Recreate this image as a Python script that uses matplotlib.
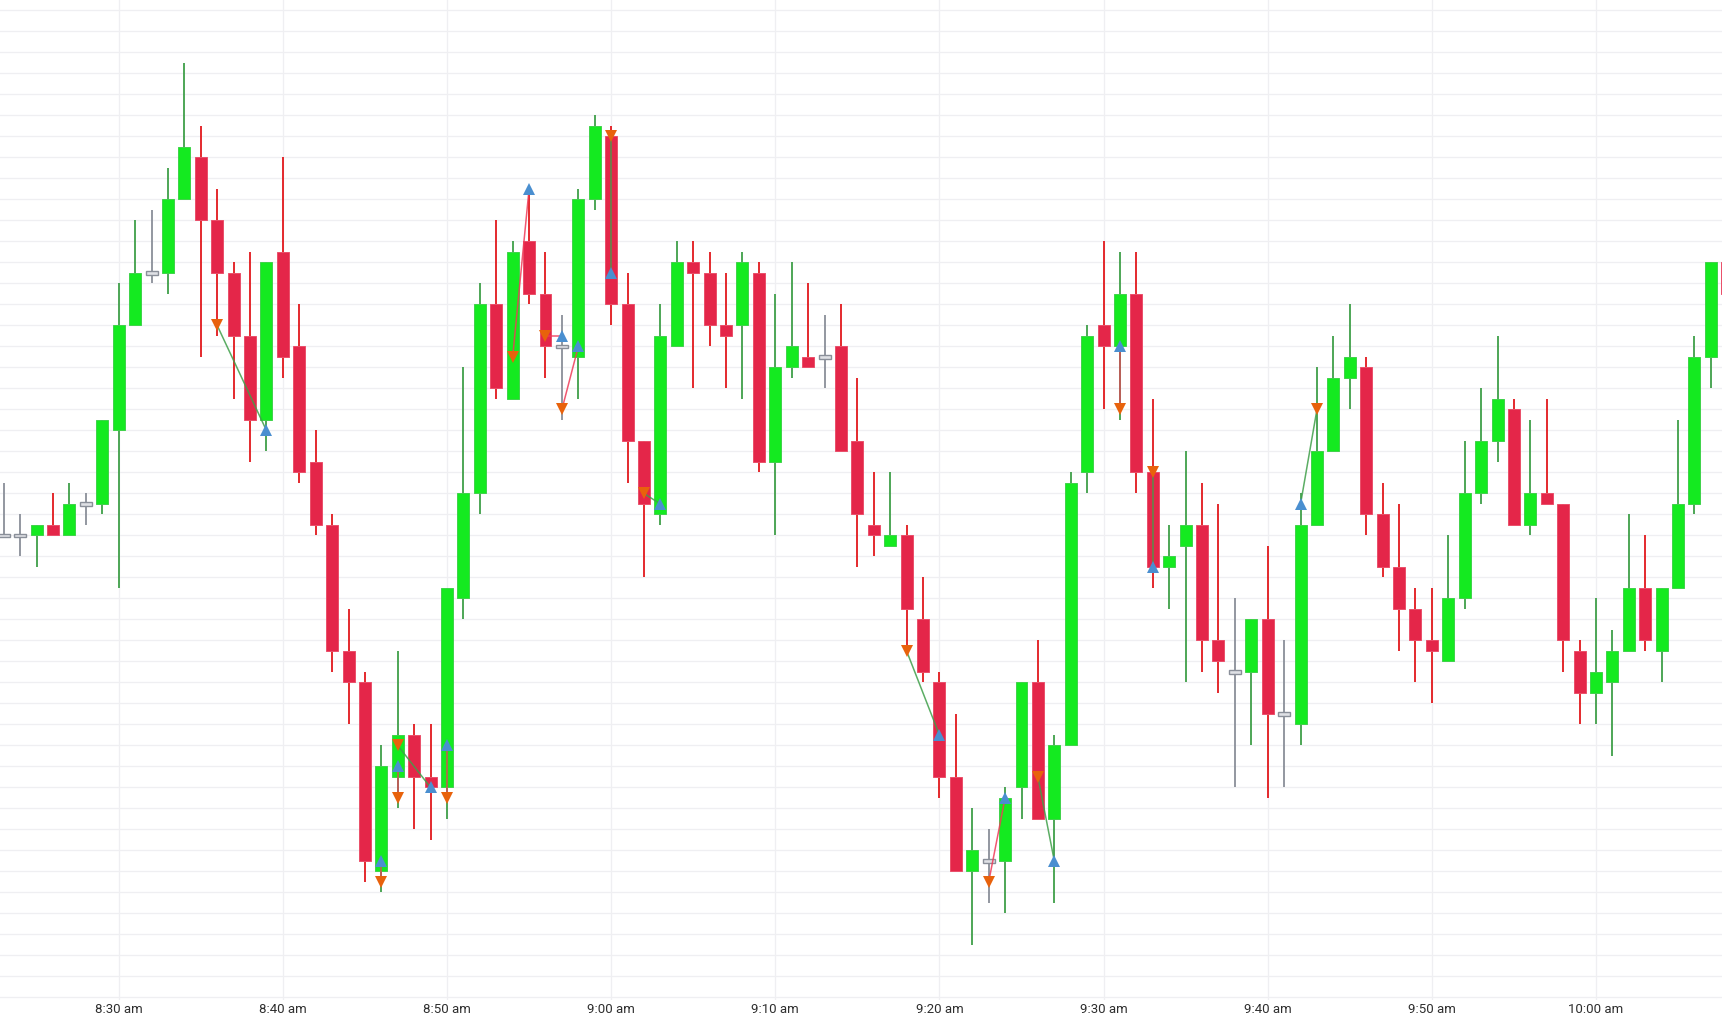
import numpy as np
import pandas as pd
import matplotlib
matplotlib.use('Agg')
import matplotlib.pyplot as plt
import matplotlib.dates as mdates
from matplotlib.ticker import MultipleLocator, FuncFormatter

plt.rcParams['font.family'] = ['Roboto', 'DejaVu Sans']

# 1-minute bars, 08:23 .. 10:08
start = '2023-06-01 08:23'
opens = [15844, 15844, 15844, 15845, 15844, 15847, 15847, 15854, 15864, 15869,
         15869, 15876, 15880, 15874, 15869, 15863, 15855, 15871, 15862, 15851,
         15845, 15833, 15830, 15812, 15821, 15825, 15821, 15820, 15838, 15848,
         15866, 15857, 15872, 15867, 15862, 15861, 15876, 15882, 15866, 15853,
         15846, 15862, 15870, 15869, 15864, 15864, 15869, 15851, 15860, 15861,
         15861, 15862, 15853, 15845, 15843, 15844, 15836, 15830, 15821, 15812,
         15813, 15813, 15820, 15830, 15817, 15824, 15850, 15864, 15862, 15867,
         15850, 15841, 15843, 15845, 15834, 15831, 15831, 15836, 15827, 15826,
         15845, 15852, 15859, 15860, 15846, 15841, 15837, 15834, 15832, 15838,
         15848, 15853, 15856, 15845, 15848, 15847, 15833, 15829, 15830, 15833,
         15839, 15833, 15839, 15847, 15861, 15870]
highs = [15849, 15846, 15845, 15848, 15849, 15848, 15855, 15868, 15874, 15875,
         15879, 15889, 15883, 15877, 15870, 15871, 15870, 15880, 15866, 15854,
         15846, 15837, 15831, 15824, 15833, 15826, 15826, 15839, 15860, 15868,
         15874, 15872, 15877, 15871, 15865, 15877, 15884, 15883, 15869, 15853,
         15866, 15872, 15872, 15871, 15869, 15871, 15870, 15867, 15870, 15868,
         15865, 15866, 15859, 15850, 15850, 15845, 15840, 15831, 15827, 15818,
         15816, 15820, 15830, 15834, 15825, 15850, 15864, 15872, 15871, 15871,
         15857, 15845, 15852, 15849, 15847, 15838, 15836, 15843, 15834, 15848,
         15860, 15863, 15866, 15861, 15849, 15847, 15839, 15839, 15844, 15853,
         15858, 15863, 15857, 15855, 15857, 15847, 15834, 15838, 15835, 15846,
         15844, 15839, 15855, 15863, 15870, 15870]
lows = [15844, 15842, 15841, 15844, 15844, 15845, 15846, 15839, 15864, 15868,
        15867, 15876, 15861, 15863, 15857, 15851, 15852, 15859, 15849, 15844,
        15831, 15826, 15811, 15810, 15818, 15816, 15815, 15817, 15836, 15846,
        15857, 15857, 15866, 15859, 15855, 15857, 15875, 15864, 15849, 15840,
        15845, 15862, 15858, 15862, 15858, 15857, 15850, 15844, 15859, 15860,
        15858, 15852, 15841, 15842, 15843, 15833, 15830, 15819, 15812, 15805,
        15809, 15808, 15817, 15817, 15809, 15824, 15848, 15856, 15855, 15848,
        15839, 15837, 15830, 15831, 15829, 15820, 15824, 15819, 15820, 15824,
        15845, 15852, 15856, 15844, 15840, 15833, 15830, 15828, 15832, 15837,
        15847, 15851, 15845, 15844, 15847, 15831, 15826, 15826, 15823, 15833,
        15833, 15830, 15839, 15846, 15858, 15867]
closes = [15844, 15844, 15845, 15844, 15847, 15847, 15855, 15864, 15869, 15869,
          15876, 15881, 15874, 15869, 15863, 15855, 15870, 15861, 15850, 15845,
          15833, 15830, 15813, 15822, 15825, 15821, 15820, 15839, 15848, 15866,
          15858, 15871, 15867, 15862, 15862, 15876, 15883, 15866, 15853, 15847,
          15863, 15870, 15869, 15864, 15863, 15870, 15851, 15860, 15862, 15860,
          15861, 15852, 15846, 15844, 15844, 15837, 15831, 15821, 15812, 15814,
          15813, 15819, 15830, 15817, 15824, 15849, 15863, 15862, 15867, 15850,
          15841, 15842, 15845, 15834, 15832, 15831, 15836, 15827, 15827, 15845,
          15852, 15859, 15861, 15846, 15841, 15837, 15834, 15833, 15838, 15848,
          15853, 15857, 15845, 15848, 15847, 15834, 15829, 15831, 15833, 15839,
          15834, 15839, 15847, 15861, 15870, 15867]

# trades: side, entry (time, price), exit (time, price)
trade_side = ['short', 'long', 'long', 'short', 'long', 'short', 'short', 'short',
              'short', 'short', 'short', 'short', 'short', 'long', 'short', 'long']
entry_time = ['08:36', '08:46', '08:47', '08:47', '08:50', '08:54', '08:56', '08:57',
              '09:00', '09:02', '09:18', '09:23', '09:26', '09:31', '09:33', '09:42']
entry_price = [15864, 15813, 15822, 15824, 15824, 15861, 15863, 15856,
               15882, 15848, 15833, 15811, 15821, 15862, 15850, 15847]
exit_time = ['08:39', '08:46', '08:47', '08:49', '08:50', '08:55', '08:57', '08:58',
             '09:00', '09:03', '09:20', '09:24', '09:27', '09:31', '09:33', '09:43']
exit_price = [15854, 15811, 15819, 15820, 15819, 15877, 15863, 15862,
              15869, 15847, 15825, 15819, 15813, 15856, 15841, 15856]

UP = '#14ea20'
UP_EDGE = '#3fd24a'
UP_WICK = '#3f9f49'
DOWN = '#e42649'
DOWN_EDGE = '#ea4f6a'
DOWN_WICK = '#e2181c'
FLAT = '#8a8f99'
BUY = '#4a8fd0'
SELL = '#e8620c'

times = pd.date_range(start, periods=len(opens), freq='1min')
x = mdates.date2num(times)
o = np.array(opens, dtype=float)
h = np.array(highs, dtype=float)
l = np.array(lows, dtype=float)
c = np.array(closes, dtype=float)

fig = plt.figure(figsize=(17.22, 10.19), dpi=100)
ax = fig.add_axes([0, 19 / 1019, 1, 1000 / 1019])

up = c > o
down = c < o
flat = c == o
wick_cols = np.where(up, UP_WICK, np.where(down, DOWN_WICK, FLAT))
ax.vlines(x, l, h, colors=wick_cols, lw=1.3, zorder=2)

w = 0.73 / 1440
ax.bar(x[up], (c - o)[up], bottom=o[up], width=w, color=UP,
       edgecolor=UP_EDGE, linewidth=0.7, zorder=3)
ax.bar(x[down], (o - c)[down], bottom=c[down], width=w, color=DOWN,
       edgecolor=DOWN_EDGE, linewidth=0.7, zorder=3)
ax.bar(x[flat], 0.3, bottom=c[flat] - 0.15, width=w, color='#dfe1e5',
       edgecolor=FLAT, linewidth=1.0, zorder=3)

# trade lines and markers
day = start.split()[0]
for side, et, ep, xt, xp in zip(trade_side, entry_time, entry_price, exit_time, exit_price):
    ex = mdates.date2num(pd.Timestamp(day + ' ' + et))
    xx = mdates.date2num(pd.Timestamp(day + ' ' + xt))
    if side == 'long':
        win = xp > ep
        ax.plot(ex, ep, marker='^', color=BUY, ms=8, mew=0, zorder=6)
        ax.plot(xx, xp, marker='v', color=SELL, ms=8, mew=0, zorder=6)
    else:
        win = xp < ep
        ax.plot(ex, ep, marker='v', color=SELL, ms=8, mew=0, zorder=6)
        ax.plot(xx, xp, marker='^', color=BUY, ms=8, mew=0, zorder=6)
    ax.plot([ex, xx], [ep, xp], color='#3f9f49' if win else '#ef3b58',
            lw=1.1, alpha=0.85, zorder=5)

ax.set_xlim(mdates.date2num(pd.Timestamp(day + ' 08:22:46')),
            mdates.date2num(pd.Timestamp(day + ' 10:07:40.6')))
ax.set_ylim(15799.76, 15895.0)

ax.yaxis.set_major_locator(MultipleLocator(2))
ax.xaxis.set_major_locator(mdates.MinuteLocator(byminute=range(0, 60, 10)))


def fmt_time(v, pos):
    d = mdates.num2date(v)
    return '%d:%02d %s' % (d.hour % 12 or 12, d.minute, 'am' if d.hour < 12 else 'pm')


ax.xaxis.set_major_formatter(FuncFormatter(fmt_time))
ax.grid(True, color='#efeff2', lw=0.9, zorder=0)
ax.set_axisbelow(True)
ax.tick_params(axis='y', left=False, labelleft=False)
ax.tick_params(axis='x', length=0, pad=2.5, labelsize=9.5, labelcolor='#2e2e2e')
for s in ax.spines.values():
    s.set_visible(False)

fig.savefig('out.png', dpi=100, facecolor='white')
